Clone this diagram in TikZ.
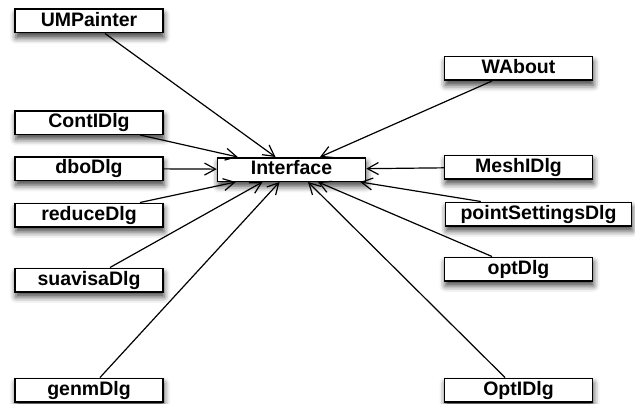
\documentclass[tikz,border=0pt]{standalone}
\usepackage{fontspec}
\setmainfont{Liberation Sans}
\usetikzlibrary{arrows.meta,shadows.blur}

\begin{document}
\begin{tikzpicture}[
    x=1pt, y=-1pt,
    every node/.style={draw, fill=white, line width=1.5pt, minimum width=148pt, minimum height=23.5pt,
        inner xsep=15pt, inner ysep=3pt, text height=14pt, text depth=3.5pt,
        font=\bfseries\fontsize{19.5}{22}\selectfont,
        blur shadow={shadow xshift=1pt, shadow yshift=-5pt, shadow blur radius=6pt, shadow opacity=75}},
    arrow/.style={-{Straight Barb[length=11pt,width=12pt]}, line width=1.2pt}
]
    \useasboundingbox (0,0) rectangle (635,404);

    % Centre
    \node (Interface) at (291.5,169.5) {Interface};

    % Left column
    \node (UMPainter) at (89,21) {UMPainter};
    \node (ContlDlg) at (89,122.5) {ContIDlg};
    \node (dboDlg) at (89,168.5) {dboDlg};
    \node (reduceDlg) at (89,215) {reduceDlg};
    \node (suavisaDlg) at (89,280) {suavisaDlg};
    \node (genmDlg) at (89,390) {genmDlg};

    % Right column
    \node (WAbout) at (518.5,68.5) {WAbout};
    \node (MeshlDlg) at (518.5,167) {MeshIDlg};
    \node (pointSettingsDlg) at (538.5,214) {pointSettingsDlg};
    \node (optDlg) at (518.5,269) {optDlg};
    \node (OptlDlg) at (518.5,390) {OptIDlg};

    % Arrows
    \draw[arrow] ([xshift=16pt]UMPainter.south) -- ([xshift=-16pt]Interface.north);
    \draw[arrow] ([xshift=51pt]ContlDlg.south) -- ([xshift=21pt]Interface.north west);
    \draw[arrow] (dboDlg) -- (Interface);
    \draw[arrow] ([xshift=51pt]reduceDlg.north) -- ([xshift=19pt]Interface.south west);
    \draw[arrow] ([xshift=21pt]suavisaDlg.north) -- ([xshift=-29pt]Interface.south);
    \draw[arrow] ([xshift=11pt]genmDlg.north) -- ([xshift=-12pt]Interface.south);
    \draw[arrow] ([xshift=-26.5pt]WAbout.south) -- ([xshift=28.5pt]Interface.north);
    \draw[arrow] (MeshlDlg) -- (Interface);
    \draw[arrow] ([xshift=36pt]pointSettingsDlg.north west) -- ([xshift=-6pt]Interface.south east);
    \draw[arrow] ([xshift=-26.5pt]optDlg.north) -- ([xshift=26.5pt]Interface.south);
    \draw[arrow] ([xshift=-13.5pt]OptlDlg.north) -- ([xshift=16.5pt]Interface.south);
\end{tikzpicture}
\end{document}
